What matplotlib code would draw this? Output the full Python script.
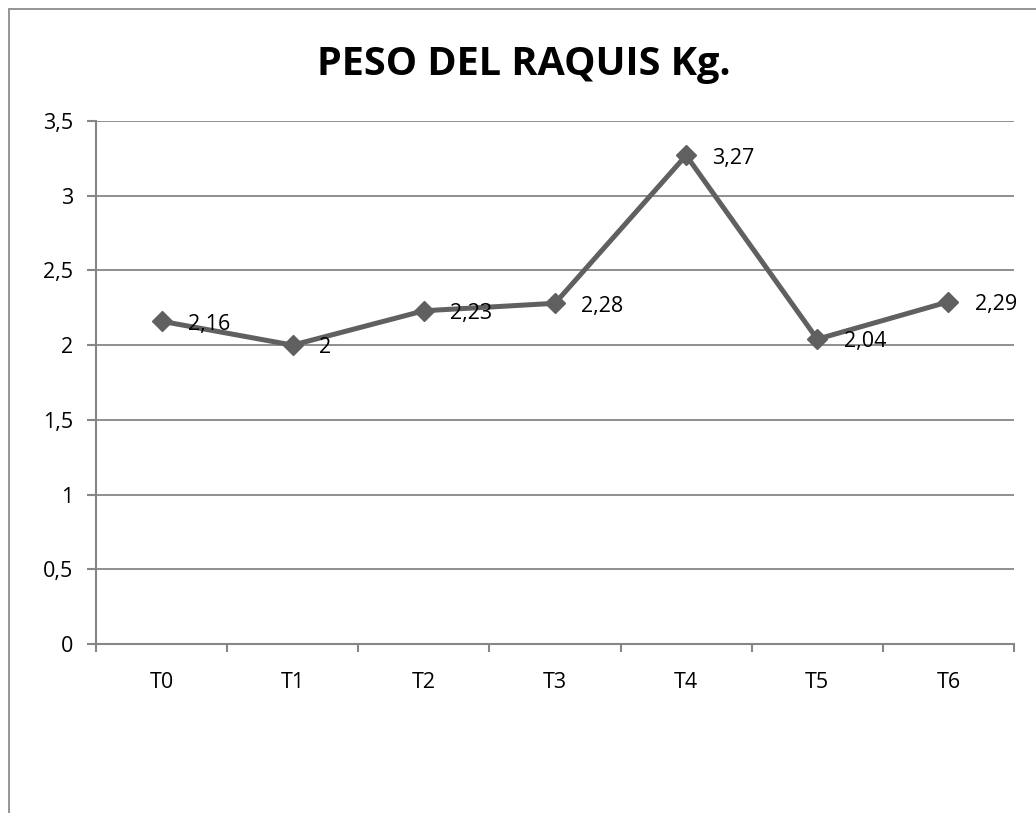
import matplotlib
matplotlib.use("Agg")
import matplotlib.pyplot as plt
from matplotlib.patches import Rectangle

categories = ["T0", "T1", "T2", "T3", "T4", "T5", "T6"]
values = [2.16, 2.0, 2.23, 2.28, 3.27, 2.04, 2.29]
labels = ["2,16", "2", "2,23", "2,28", "3,27", "2,04", "2,29"]
yticks = [0, 0.5, 1, 1.5, 2, 2.5, 3, 3.5]
yticklabels = ["0", "0,5", "1", "1,5", "2", "2,5", "3", "3,5"]
title = "PESO DEL RAQUIS Kg."

plt.rcParams['font.family'] = ['Open Sans', 'DejaVu Sans']
W, H = 1036, 813
fig = plt.figure(figsize=(W / 100, H / 100), dpi=100)

# outer chart frame (cropped)
fig.patches.append(Rectangle((8.5 / W, -0.1), 1.2, (H - 9.5) / H + 0.1,
                             transform=fig.transFigure, fill=False,
                             edgecolor="#8c8c8c", linewidth=1.3))

ax = fig.add_axes([96 / W, 169 / H, 918 / W, 523 / H])
gray = "#868686"
x = list(range(len(categories)))
ax.plot(x, values, color="#606060", linewidth=3.6, marker="D", markersize=10.5,
        markerfacecolor="#606060", markeredgecolor="#606060", zorder=3, clip_on=False)
for xi, v, lab in zip(x, values, labels):
    ax.annotate(lab, (xi, v), xytext=(19, -2), textcoords="offset points",
                ha="left", va="center", fontsize=15.5, color="black")

ax.set_xlim(-0.5, len(categories) - 0.5)
ax.set_ylim(0, 3.5)
ax.set_yticks(yticks)
ax.set_yticklabels(yticklabels, fontsize=15.5)
ax.set_xticks(x)
ax.set_xticklabels(categories, fontsize=15.5)
ax.set_xticks([i - 0.5 for i in range(len(categories) + 1)], minor=True)
ax.tick_params(axis="x", which="major", length=0, pad=20)
ax.tick_params(axis="x", which="minor", length=6, width=1.5, color=gray, direction="out")
ax.tick_params(axis="y", length=6.5, width=1.5, color=gray, pad=10)
ax.grid(axis="y", color=gray, linewidth=1.3)
ax.set_axisbelow(True)
for s in ["top", "right"]:
    ax.spines[s].set_visible(False)
for s in ["left", "bottom"]:
    ax.spines[s].set_color(gray)
    ax.spines[s].set_linewidth(1.5)

fig.text(524 / W, 1 - 75 / H, title, ha="center", va="baseline",
         fontsize=28.5, fontweight="bold")

fig.savefig("out.png", dpi=100)
